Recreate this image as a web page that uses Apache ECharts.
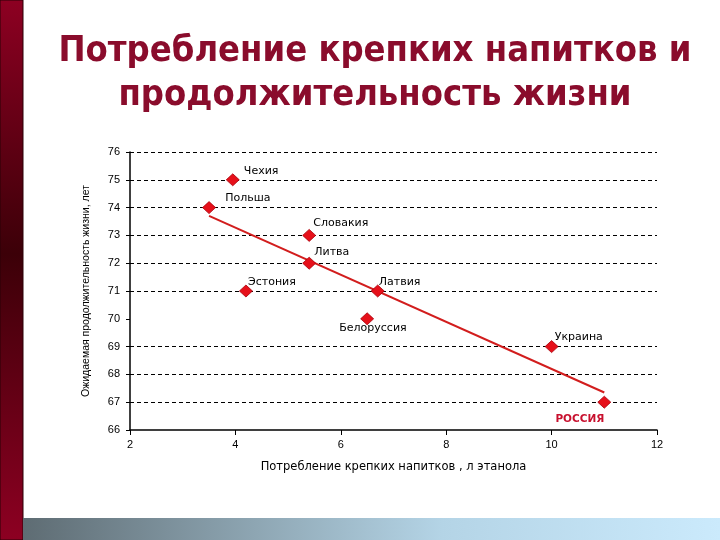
<!DOCTYPE html>
<html>
<head>
<meta charset="utf-8">
<script src="https://cdn.jsdelivr.net/npm/echarts@6/dist/echarts.min.js"></script>
<style>
  html, body {margin: 0; padding: 0; background: #fff;}
  #r-canvas {width: 720px; height: 540px;}
</style>
</head>
<body>
<div id="r-canvas"></div>
<script>
// данные
var countries = ['Чехия', 'Польша', 'Словакия', 'Литва', 'Эстония', 'Латвия', 'Белоруссия', 'Украина', 'РОССИЯ']
var spirits = [3.95, 3.5, 5.4, 5.4, 4.2, 6.7, 6.5, 10.0, 11.0]      // л этанола
var lifeExp = [75, 74, 73, 72, 71, 71, 70, 69, 67]                  // лет
var trendX = [3.5, 11.0]
var trendY = [73.7, 67.35]
var gridLines = [67, 68, 69, 71, 72, 73, 74, 75, 76]                // 70 на слайде нет

// смещения подписей [dx, dy]
var labelPos = [[18, -2], [23, -3], [11, -6], [12, -5], [9, -2], [8, -2], [-21, 16], [10, -3], [-42, 23]]

var myChart = echarts.init(document.getElementById('r-canvas'), null, {renderer: 'canvas'})

var pts = []
for (var i = 0; i < countries.length; i++) {
  var isRu = countries[i] === 'РОССИЯ'
  pts.push({
    name: countries[i],
    value: [spirits[i], lifeExp[i]],
    label: {
      position: labelPos[i],
      color: isRu ? '#c8102e' : '#000',
      fontWeight: isRu ? 'bold' : 'normal',
      fontSize: isRu ? 10.5 : 11
    }
  })
}

var trend = []
for (var j = 0; j < trendX.length; j++) {
  trend.push([trendX[j], trendY[j]])
}

var marks = []
for (var k = 0; k < gridLines.length; k++) {
  marks.push({yAxis: gridLines[k]})
}

var txt = {fontFamily: 'Liberation Sans, Arial, sans-serif', fontSize: 11, color: '#000'}

var option = {
  backgroundColor: '#fff',
  animation: false,
  title: {
    text: 'Потребление крепких напитков и\nпродолжительность жизни',
    left: 370,
    top: 25,
    textAlign: 'center',
    textStyle: {
      fontFamily: 'DejaVu Sans Condensed, DejaVu Sans, sans-serif',
      fontWeight: 'bold',
      fontSize: 36,
      lineHeight: 44,
      color: '#8a0c2c'
    }
  },
  graphic: [
    {
      type: 'rect',
      shape: {x: 0, y: 0, width: 23, height: 540},
      style: {
        fill: new echarts.graphic.LinearGradient(0, 0, 0, 1, [
          {offset: 0, color: '#8d0022'},
          {offset: 0.47, color: '#3c0008'},
          {offset: 1, color: '#8d0022'}
        ]),
        stroke: '#2a0006',
        lineWidth: 1
      }
    },
    {
      type: 'rect',
      shape: {x: 23, y: 518, width: 697, height: 22},
      style: {
        fill: new echarts.graphic.LinearGradient(0, 0, 1, 0, [
          {offset: 0, color: '#5e6c73'},
          {offset: 0.6, color: '#b4d4e6'},
          {offset: 1, color: '#cbeafc'}
        ])
      }
    }
  ],
  grid: {left: 130, right: 63, top: 152, bottom: 110},
  xAxis: {
    type: 'value',
    min: 2,
    max: 12,
    interval: 2,
    name: 'Потребление крепких напитков , л этанола',
    nameLocation: 'middle',
    nameGap: 31,
    nameTextStyle: {fontFamily: 'DejaVu Sans, sans-serif', fontSize: 11.5, color: '#000'},
    axisLine: {show: true, onZero: false, lineStyle: {color: '#000', width: 1.5}},
    axisTick: {show: true, length: 5, lineStyle: {color: '#000'}},
    axisLabel: Object.assign({margin: 9}, txt),
    splitLine: {show: false}
  },
  yAxis: {
    type: 'value',
    min: 66,
    max: 76,
    interval: 1,
    name: 'Ожидаемая продолжительность жизни, лет',
    nameLocation: 'middle',
    nameGap: 38,
    nameRotate: 90,
    nameTextStyle: {fontFamily: 'Liberation Sans, Arial, sans-serif', fontSize: 10.5, color: '#000'},
    axisLine: {show: true, onZero: false, lineStyle: {color: '#000', width: 1.5}},
    axisTick: {show: true, length: 4, lineStyle: {color: '#000'}},
    axisLabel: Object.assign({margin: 10}, txt),
    splitLine: {show: false}
  },
  series: [
    {
      type: 'line',
      data: trend,
      symbol: 'none',
      lineStyle: {color: '#d21d1d', width: 2},
      z: 2
    },
    {
      type: 'scatter',
      data: pts,
      symbol: 'diamond',
      symbolSize: [13, 12],
      itemStyle: {color: '#e6101a', borderColor: '#a8000a', borderWidth: 0.8, opacity: 1},
      label: {
        show: true,
        formatter: '{b}',
        align: 'left',
        verticalAlign: 'middle',
        fontFamily: 'DejaVu Sans, sans-serif',
        fontSize: 11
      },
      markLine: {
        silent: true,
        symbol: 'none',
        label: {show: false},
        lineStyle: {color: '#000', width: 1, type: [4, 3]},
        data: marks,
        z: 1
      },
      z: 3
    }
  ]
}

myChart.setOption(option)
</script>
</body>
</html>
